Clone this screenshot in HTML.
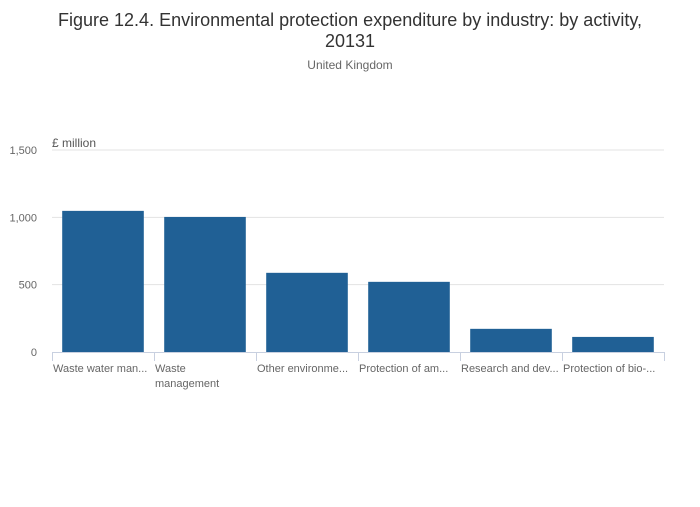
<!DOCTYPE html>
<html><head><meta charset="utf-8"><style>
body{margin:0;background:#fff;font-family:"Liberation Sans",sans-serif}
</style></head><body>
<svg id="chart" width="700" height="502" xmlns="http://www.w3.org/2000/svg" font-family="Liberation Sans, sans-serif">
<text x="350" y="26" text-anchor="middle" font-size="18" fill="#333">Figure 12.4. Environmental protection expenditure by industry: by activity,</text>
<text x="350" y="47" text-anchor="middle" font-size="18" fill="#333">20131</text>
<text x="350" y="69" text-anchor="middle" font-size="12" fill="#666">United Kingdom</text>
<text x="52" y="147" font-size="12" fill="#555">£ million</text>
<g id="grid"></g><g id="bars"></g><g id="xaxis"></g>
</svg>
<script>
const categories=[["Waste water man..."],["Waste","management"],["Other environme..."],["Protection of am..."],["Research and dev..."],["Protection of bio-..."]];
const values=[1048,1003,588,521,172,112];
const yTicks=[0,500,1000,1500];
const yTickLabels=["0","500","1,000","1,500"];
const NS="http://www.w3.org/2000/svg";
const x0=52,x1=664,yBase=352,yTop=150,yMax=1500;
const y=v=>yBase-(v/yMax)*(yBase-yTop);
const bw=(x1-x0)/categories.length;
const xs=i=>x0+i*bw;
function mk(t,a,p){const e=document.createElementNS(NS,t);for(const k in a)e.setAttribute(k,a[k]);p.appendChild(e);return e;}
const g=document.getElementById('grid'),b=document.getElementById('bars'),xa=document.getElementById('xaxis');
yTicks.forEach((t,i)=>{
 if(t>0){const l=mk('line',{x1:x0,x2:x1,y1:y(t),y2:y(t),stroke:'#e3e3e3','stroke-width':1},g);
 
 }
 const tx=mk('text',{x:37,y:y(t)+4,'text-anchor':'end','font-size':11,fill:'#666'},g);
 tx.textContent=yTickLabels[i];
 
 
});
values.forEach((v,i)=>{
 const r=mk('rect',{x:xs(i)+bw*0.1,y:y(v),width:bw*0.8,height:yBase-y(v),fill:'#206095'},b);
 
 
});
const ax=mk('line',{x1:x0,x2:x1,y1:yBase+0.5,y2:yBase+0.5,stroke:'#c8d0e0','stroke-width':1},xa);


for(let i=0;i<=categories.length;i++){
 const tk=mk('line',{x1:xs(i)+0.5,x2:xs(i)+0.5,y1:yBase,y2:yBase+9,stroke:'#c8d0e0'},xa);
 
 
}
categories.forEach((c,i)=>{
 c.forEach((line,j)=>{
  const t=mk('text',{x:xs(i)+1,y:yBase+20+j*15,'font-size':11,fill:'#666'},xa);
  t.textContent=line;
  
  
 });
});
</script>
</body></html>
